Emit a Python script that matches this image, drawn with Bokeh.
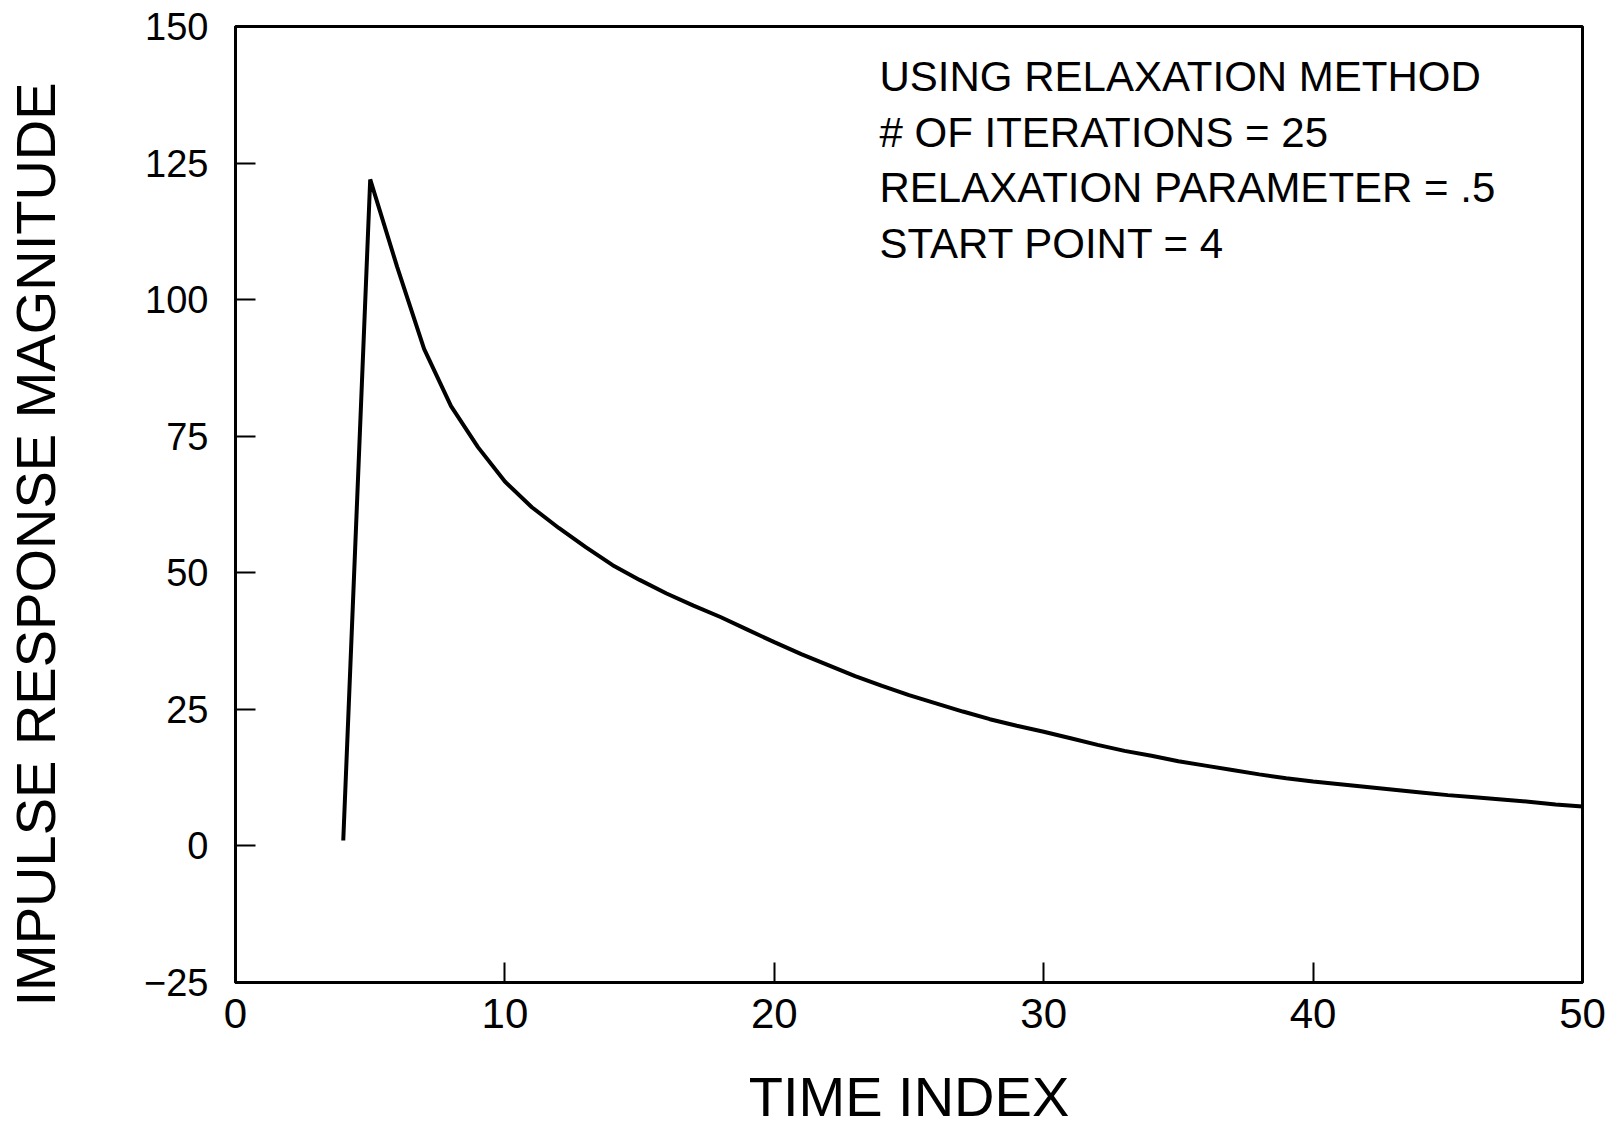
from bokeh.plotting import figure
from bokeh.models import Range1d, FixedTicker, Label, Title
from bokeh.embed import file_html
from bokeh.resources import INLINE

# ---- data ----
time_index = [4, 5, 6, 7, 8, 9, 10, 11, 12, 13, 14, 15, 16, 17, 18, 19, 20,
              21, 22, 23, 24, 25, 26, 27, 28, 29, 30, 31, 32, 33, 34, 35,
              36, 37, 38, 39, 40, 41, 42, 43, 44, 45, 46, 47, 48, 49, 50]
magnitude = [1.0, 122.0, 106.0, 91.0, 80.5, 73.0, 66.7, 62.0, 58.2, 54.7,
             51.4, 48.7, 46.2, 44.0, 41.9, 39.6, 37.3, 35.1, 33.1, 31.1,
             29.3, 27.6, 26.1, 24.6, 23.2, 22.0, 20.9, 19.7, 18.5, 17.4,
             16.5, 15.5, 14.7, 13.9, 13.1, 12.4, 11.8, 11.3, 10.8, 10.3,
             9.8, 9.3, 8.9, 8.5, 8.1, 7.6, 7.2]
x_ticks = [0, 10, 20, 30, 40, 50]
y_ticks = [-25, 0, 25, 50, 75, 100, 125, 150]
annotation_lines = ["USING RELAXATION METHOD",
                    "# OF ITERATIONS = 25",
                    "RELAXATION PARAMETER = .5",
                    "START POINT = 4"]
x_label = "TIME INDEX"
y_label = "IMPULSE RESPONSE MAGNITUDE"

FONT = "Liberation Sans"

p = figure(width=1612, height=1130, output_backend="svg", toolbar_location=None,
           x_range=Range1d(0, 50), y_range=Range1d(-25, 150),
           min_border_left=235, min_border_right=30,
           min_border_top=26, min_border_bottom=148)

p.background_fill_color = "white"
p.border_fill_color = "white"
p.outline_line_color = "black"
p.outline_line_width = 3
p.xgrid.visible = False
p.ygrid.visible = False

p.line(time_index, magnitude, line_color="black", line_width=4)

for ax in (p.xaxis[0], p.yaxis[0]):
    ax.axis_line_color = "black"
    ax.axis_line_width = 3
    ax.major_tick_in = 20
    ax.major_tick_out = 0
    ax.major_tick_line_width = 2
    ax.major_tick_line_color = "black"
    ax.minor_tick_line_color = None
    ax.major_label_text_font = FONT
    ax.major_label_text_color = "black"

p.xaxis.ticker = FixedTicker(ticks=x_ticks)
p.yaxis.ticker = FixedTicker(ticks=y_ticks)
p.yaxis.major_label_overrides = {-25: "\u221225"}
p.xaxis.major_label_text_font_size = "42px"
p.yaxis.major_label_text_font_size = "38px"
p.xaxis.major_label_standoff = 16
p.yaxis.major_label_standoff = 27

p.xaxis.axis_label = x_label
p.xaxis.axis_label_text_font = FONT
p.xaxis.axis_label_text_font_size = "56px"
p.xaxis.axis_label_text_font_style = "normal"
p.xaxis.axis_label_text_color = "black"
p.xaxis.axis_label_standoff = 34

# invisible spacer on the y axis so the side title sits further left
p.yaxis.axis_label = " "
p.yaxis.axis_label_text_font_size = "1px"
p.yaxis.axis_label_standoff = 70

# y label as a side title so it can sit slightly below the frame centre
p.add_layout(Title(text=y_label, align="left", offset=-24, standoff=0,
                   vertical_align="bottom",
                   text_font=FONT, text_font_size="56px",
                   text_font_style="normal", text_color="black"), "left")

for i, line in enumerate(annotation_lines):
    p.add_layout(Label(x=644, y=906 - i * 55.5, x_units="screen", y_units="screen",
                       text=line, text_font=FONT,
                       text_font_size="42px", text_align="left",
                       text_baseline="alphabetic", text_color="black"))

open("out.html", "w").write(file_html(p, INLINE))
